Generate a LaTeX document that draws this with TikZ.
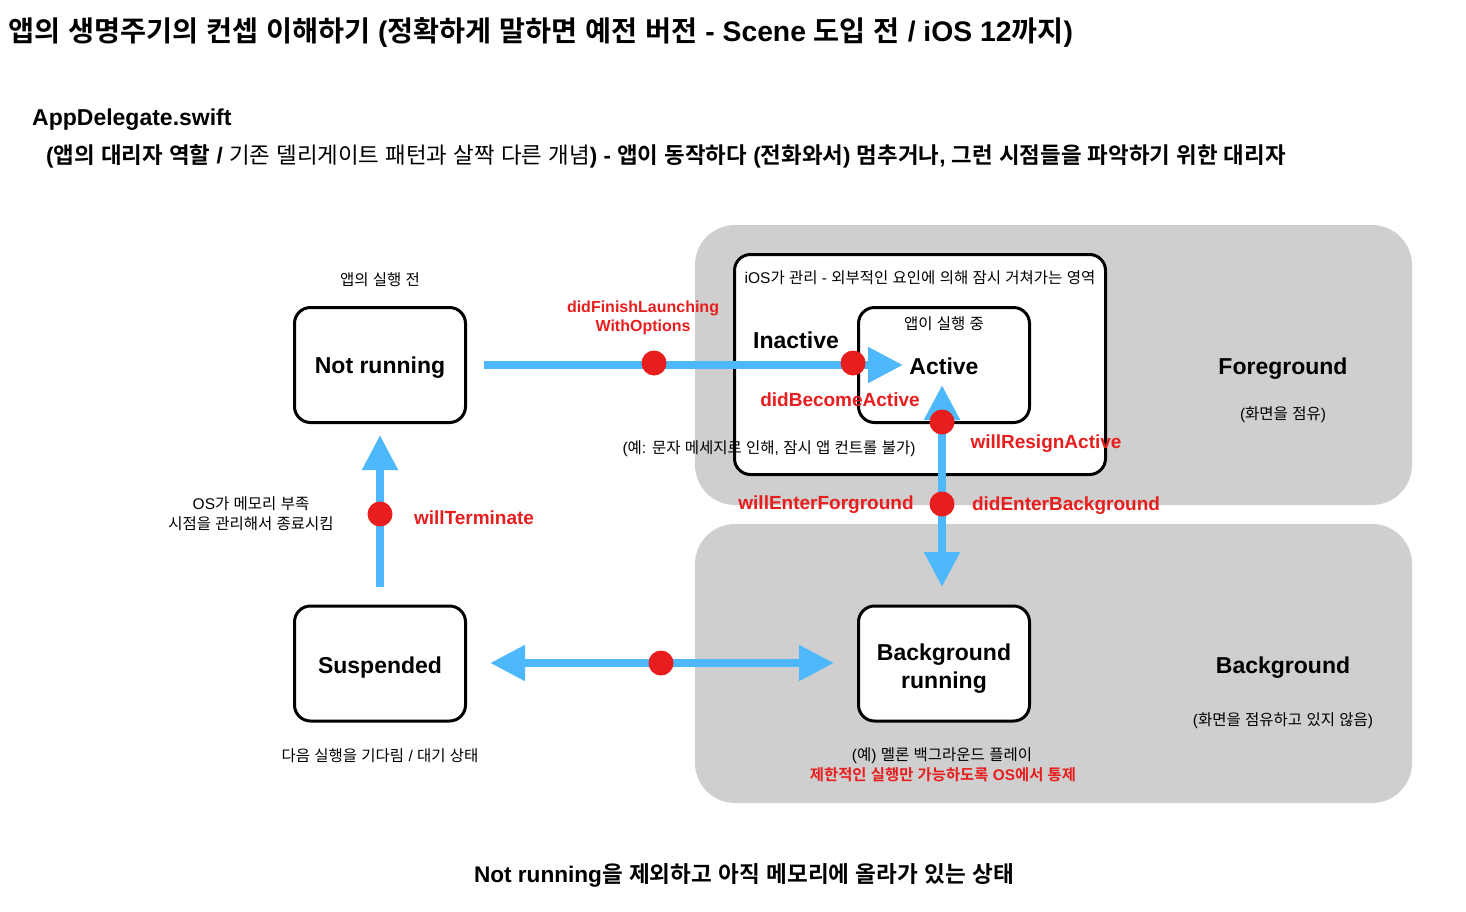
\documentclass[tikz,border=0pt]{standalone}
\usepackage{fontspec}
\setmainfont{Liberation Sans}
\newfontfamily\krfam{Noto Sans CJK KR}[BoldFont={Noto Sans CJK KR Bold}]
\usetikzlibrary{arrows.meta}
\XeTeXinterchartokenstate=1
\newcount\hgcnt
\hgcnt="AC00
\loop\ifnum\hgcnt<"D7A4 \XeTeXcharclass\hgcnt=7 \advance\hgcnt by 1 \repeat
\XeTeXinterchartoks 0 7={\begingroup\krfam}
\XeTeXinterchartoks 4095 7={\begingroup\krfam}
\XeTeXinterchartoks 7 0={\endgroup}
\XeTeXinterchartoks 7 4095={\endgroup}
\definecolor{bl}{HTML}{4DB8FB}
\definecolor{rd}{HTML}{E81E1E}
\definecolor{gr}{HTML}{CFCFCF}
\tikzset{
  panel/.style={fill=gr, rounded corners=40pt, inner sep=0pt},
  statebox/.style={draw=black, line width=3pt, rounded corners=16pt, fill=white, inner sep=0pt, minimum width=171pt, minimum height=115pt},
  flow/.style={draw=bl, line width=8pt, -{Triangle[length=35pt,width=34pt]}},
  flow2/.style={draw=bl, line width=8pt, {Triangle[length=35pt,width=34pt]}-{Triangle[length=35pt,width=34pt]}},
  evdot/.style={circle, fill=rd, minimum size=25pt, inner sep=0pt},
  ev/.style={text=rd, inner sep=0pt, yshift=-2.5pt, font=\bfseries\fontsize{19}{22}\selectfont},
  small/.style={inner sep=0pt, align=center, yshift=-1pt, font=\fontsize{15.5}{20}\selectfont},
  big/.style={inner sep=0pt, align=center, yshift=-2.5pt, font=\bfseries\fontsize{23}{28}\selectfont}
}
\begin{document}
\begin{tikzpicture}[x=1pt,y=-1pt]
\useasboundingbox (0,0) rectangle (1466,911);
% panels
\node[panel, minimum width=717pt, minimum height=280pt] (fgpanel) at (1053.5,365) {};
\node[panel, minimum width=717pt, minimum height=279pt] (bgpanel) at (1053.5,663.5) {};
% iOS managed region
\node[statebox, minimum width=371pt, minimum height=220pt] (ios) at (920,364.5) {};
% state boxes
\node[statebox] (nr) at (380,365) {};
\node[statebox] (act) at (944,365) {};
\node[statebox] (sus) at (380,663.5) {};
\node[statebox] (bgr) at (944,663.5) {};
\node[big] (nrt) at (380,365.5) {Not running};
\node[big] (sust) at (380,665) {Suspended};
\node[big] (bgrt) at (944,666) {Background\\running};
% connectors
\coordinate (a1s) at (484,365);
\coordinate (a1e) at (903,365);
\draw[flow] (a1s) -- (a1e);
\coordinate (a2s) at (942,385);
\coordinate (a2e) at (942,587);
\draw[flow2] (a2s) -- (a2e);
\coordinate (a3s) at (380,587);
\coordinate (a3e) at (380,435);
\draw[flow] (a3s) -- (a3e);
\coordinate (a4s) at (490,663);
\coordinate (a4e) at (834,663);
\draw[flow2] (a4s) -- (a4e);
% event dots
\node[evdot] (d1) at (654,363) {};
\node[evdot] (d2) at (853,363) {};
\node[evdot] (d3) at (942,422) {};
\node[evdot] (d4) at (942,504) {};
\node[evdot] (d5) at (380,514) {};
\node[evdot] (d6) at (661,663) {};
% texts
\node[anchor=west, inner sep=0pt, font=\bfseries\fontsize{28.3}{32}\selectfont] (title) at (8,32) {앱의 생명주기의 컨셉 이해하기 (정확하게 말하면 예전 버전 - Scene 도입 전 / iOS 12까지)};
\node[anchor=west, big] (appd) at (32,117) {AppDelegate.swift};
\node[anchor=west, inner sep=0pt, yshift=-1.5pt, font=\fontsize{22.4}{26}\selectfont] (sub) at (46,155) {\textbf{(앱의 대리자 역할 /} 기존 델리게이트 패턴과 살짝 다른 개념\textbf{) - 앱이 동작하다 (전화와서) 멈추거나, 그런 시점들을 파악하기 위한 대리자}};
\node[small] (nrl) at (380,279) {앱의 실행 전};
\node[small] (iosl) at (920,277) {iOS가 관리 - 외부적인 요인에 의해 잠시 거쳐가는 영역};
\node[big] (inact) at (796,338) {Inactive};
\node[small] (actl) at (944,323) {앱이 실행 중};
\node[big] (actt) at (944,364) {Active};
\node[big] (fgt) at (1283,366) {Foreground};
\node[small] (fgl) at (1283,414) {(화면을 점유)};
\node[big] (bgt) at (1283,665) {Background};
\node[small] (bgl) at (1283,720) {(화면을 점유하고 있지 않음)};
\node[small] (susl) at (380,755) {다음 실행을 기다림 / 대기 상태};
\node[small] (bgrl) at (942,755) {(예) 멜론 백그라운드 플레이};
\node[small, text=rd, font=\bfseries\fontsize{15.4}{18}\selectfont] (bgrl2) at (943,774) {제한적인 실행만 가능하도록 OS에서 통제};
\node[small] (inl) at (769,448) {(예: 문자 메세지로 인해, 잠시 앱 컨트롤 불가)};
\node[small] (osl) at (251,513) {OS가 메모리 부족\\시점을 관리해서 종료시킴};
\node[big, font=\bfseries\fontsize{22.6}{26}\selectfont] (foot) at (744,873) {Not running을 제외하고 아직 메모리에 올라가 있는 상태};
% event labels
\node[ev, align=center, yshift=1pt, font=\bfseries\fontsize{16}{19}\selectfont] (e1) at (643,316) {didFinishLaunching\\WithOptions};
\node[ev] (e2) at (840,397) {didBecomeActive};
\node[ev] (e3) at (1046,441) {willResignActive};
\node[ev] (e4) at (826,502) {willEnterForground};
\node[ev] (e5) at (1066,503) {didEnterBackground};
\node[ev] (e6) at (474,515) {willTerminate};
\end{tikzpicture}
\end{document}
